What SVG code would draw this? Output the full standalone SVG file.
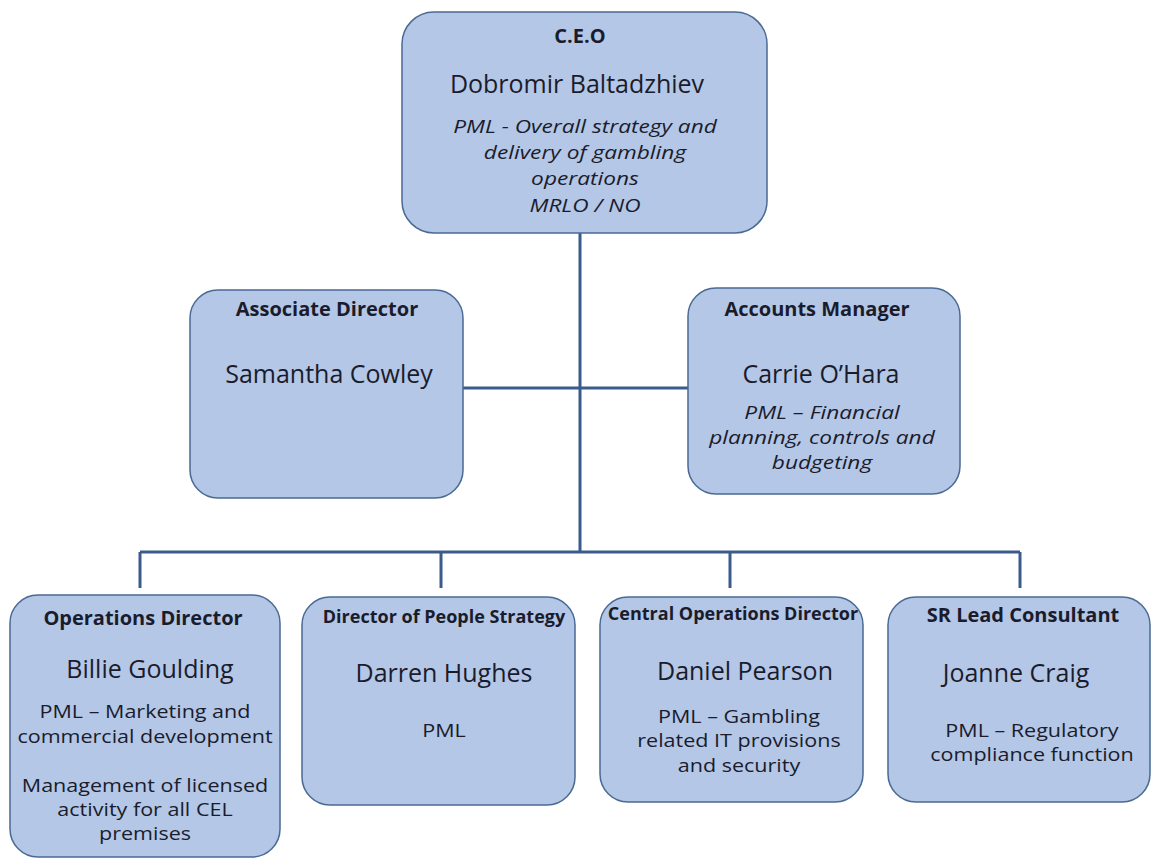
<svg xmlns="http://www.w3.org/2000/svg" width="1154" height="859" viewBox="0 0 1154 859">
<style>
.box{fill:#b4c7e7;stroke:#4a6a94;stroke-width:1.5}
.ln{stroke:#3b5b8c;stroke-width:3;fill:none}
text{font-family:"Open Sans","Liberation Sans",sans-serif;fill:#1a1c2c;text-anchor:middle}
.t{font-weight:bold;font-size:20px}
.ts{font-size:18px}
.n{font-size:25px}
.d{font-size:17.5px}
.i{font-style:italic;font-size:18px}
</style>
<rect width="1154" height="859" fill="#ffffff"/>
<g id="connectors">
<path class="ln" d="M580 233 V552"/>
<path class="ln" d="M463 388 H688"/>
<path class="ln" d="M140 552 H1020"/>
<path class="ln" d="M140 552 V588"/>
<path class="ln" d="M441 552 V588"/>
<path class="ln" d="M730 552 V588"/>
<path class="ln" d="M1020 552 V588"/>
</g>
<g id="ceo">
<rect class="box" x="402" y="12" width="365" height="221" rx="32"/>
<text class="t" x="580" y="43">C.E.O</text>
<text class="n" x="577" y="93">Dobromir Baltadzhiev</text>
<g transform="matrix(1.26 0 0 1 -152.1 0)">
<text class="i" x="585" y="133">PML - Overall strategy and</text>
<text class="i" x="585" y="159">delivery of gambling</text>
<text class="i" x="585" y="185">operations</text>
<text class="i" x="585" y="212">MRLO / NO</text>
</g>
</g>
<g id="associate-director">
<rect class="box" x="190" y="290" width="273" height="208" rx="28"/>
<text class="t" x="327" y="316">Associate Director</text>
<text class="n" x="329" y="383">Samantha Cowley</text>
</g>
<g id="accounts-manager">
<rect class="box" x="688" y="288" width="272" height="206" rx="28"/>
<text class="t" x="817" y="316">Accounts Manager</text>
<text class="n" x="821" y="383">Carrie O’Hara</text>
<g transform="matrix(1.26 0 0 1 -213.7 0)">
<text class="i" x="822" y="419">PML – Financial</text>
<text class="i" x="822" y="444">planning, controls and</text>
<text class="i" x="822" y="469">budgeting</text>
</g>
</g>
<g id="operations-director">
<rect class="box" x="10" y="595" width="270" height="262" rx="28"/>
<text class="t" x="143" y="625">Operations Director</text>
<text class="n" x="150" y="678">Billie Goulding</text>
<g transform="matrix(1.23 0 0 1 -33.35 0)">
<text class="d" x="145" y="718">PML – Marketing and</text>
<text class="d" x="145" y="743">commercial development</text>
<text class="d" x="145" y="792">Management of licensed</text>
<text class="d" x="145" y="816">activity for all CEL</text>
<text class="d" x="145" y="840">premises</text>
</g>
</g>
<g id="director-people-strategy">
<rect class="box" x="302" y="597" width="273" height="208" rx="28"/>
<text class="t ts" x="444" y="623">Director of People Strategy</text>
<text class="n" x="444" y="682">Darren Hughes</text>
<g transform="matrix(1.23 0 0 1 -102.12 0)">
<text class="d" x="444" y="737">PML</text>
</g>
</g>
<g id="central-operations-director">
<rect class="box" x="600" y="597" width="263" height="205" rx="28"/>
<text class="t ts" x="733" y="620">Central Operations Director</text>
<text class="n" x="745" y="680">Daniel Pearson</text>
<g transform="matrix(1.23 0 0 1 -169.97 0)">
<text class="d" x="739" y="723">PML – Gambling</text>
<text class="d" x="739" y="747">related IT provisions</text>
<text class="d" x="739" y="772">and security</text>
</g>
</g>
<g id="sr-lead-consultant">
<rect class="box" x="888" y="597" width="262" height="205" rx="28"/>
<text class="t" x="1023" y="622">SR Lead Consultant</text>
<text class="n" x="1016" y="682">Joanne Craig</text>
<g transform="matrix(1.23 0 0 1 -237.36 0)">
<text class="d" x="1032" y="737">PML – Regulatory</text>
<text class="d" x="1032" y="761">compliance function</text>
</g>
</g>
</svg>
